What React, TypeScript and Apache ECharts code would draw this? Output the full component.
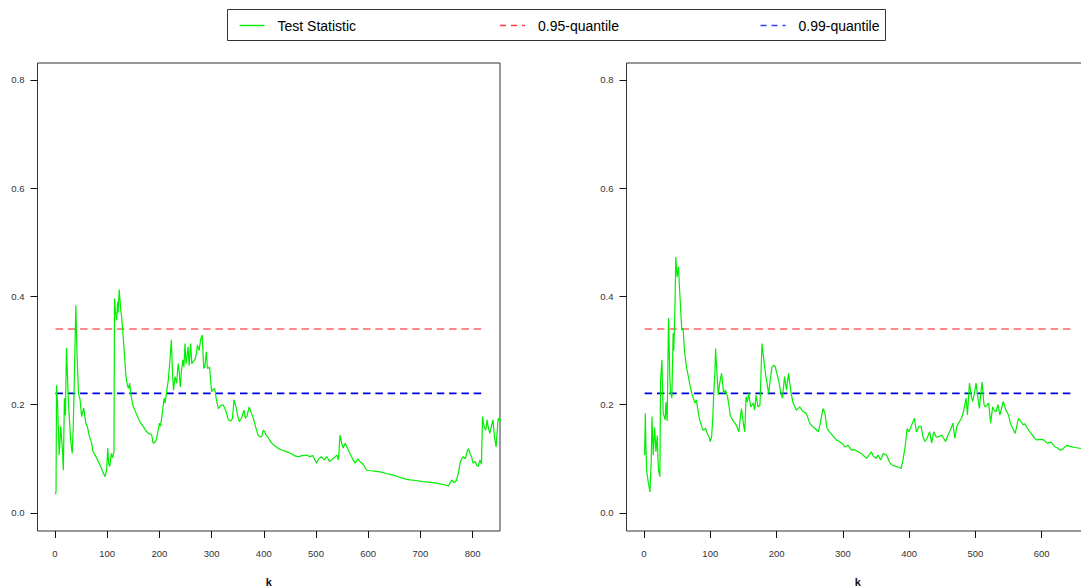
import React, { useEffect, useRef } from "react";
import * as echarts from "echarts";

// Test statistic along k, left sample: [k, value]
const LEFT_STAT: [number, number][] = [
  [1, 0.035], [2, 0.04], [3, 0.236], [5, 0.2], [8, 0.107], [11, 0.16], [14, 0.12], [16, 0.079], [18, 0.212], [20, 0.18],
  [22, 0.305], [26, 0.2], [30, 0.135], [33, 0.11], [35, 0.16], [37, 0.245], [40, 0.384], [42, 0.3], [45, 0.221], [48, 0.21],
  [51, 0.178], [55, 0.194], [59, 0.166], [62, 0.16], [66, 0.141], [70, 0.13], [73, 0.113], [78, 0.105], [83, 0.095], [88, 0.085],
  [92, 0.075], [96, 0.067], [99, 0.08], [101, 0.12], [103, 0.09], [105, 0.086], [108, 0.11], [110, 0.102], [113, 0.113], [114, 0.396],
  [116, 0.37], [118, 0.356], [120, 0.39], [121, 0.37], [123, 0.413], [126, 0.375], [128, 0.36], [131, 0.32], [136, 0.252], [139, 0.235],
  [141, 0.23], [143, 0.24], [146, 0.215], [149, 0.2], [153, 0.19], [158, 0.178], [163, 0.168], [169, 0.16], [174, 0.152], [179, 0.147],
  [185, 0.145], [188, 0.129], [191, 0.13], [194, 0.135], [197, 0.15], [200, 0.166], [202, 0.16], [205, 0.18], [209, 0.212], [211, 0.203],
  [214, 0.225], [217, 0.245], [220, 0.28], [223, 0.32], [225, 0.26], [227, 0.227], [230, 0.252], [233, 0.24], [236, 0.276], [238, 0.26],
  [240, 0.233], [242, 0.26], [245, 0.283], [247, 0.27], [249, 0.313], [251, 0.276], [253, 0.29], [255, 0.307], [257, 0.272], [260, 0.313],
  [262, 0.276], [265, 0.28], [268, 0.283], [270, 0.29], [273, 0.31], [276, 0.3], [279, 0.32], [282, 0.329], [285, 0.267], [287, 0.27],
  [290, 0.298], [292, 0.267], [294, 0.268], [296, 0.27], [300, 0.224], [303, 0.228], [306, 0.23], [309, 0.21], [313, 0.193], [317, 0.198],
  [322, 0.2], [327, 0.19], [332, 0.172], [337, 0.17], [340, 0.175], [343, 0.209], [347, 0.195], [350, 0.18], [353, 0.169], [357, 0.175],
  [362, 0.19], [365, 0.175], [368, 0.18], [372, 0.196], [376, 0.185], [380, 0.175], [384, 0.16], [389, 0.144], [393, 0.141], [396, 0.141],
  [399, 0.153], [402, 0.15], [404, 0.144], [408, 0.14], [415, 0.129], [420, 0.125], [428, 0.119], [436, 0.116], [444, 0.113], [452, 0.11],
  [458, 0.106], [466, 0.104], [474, 0.106], [482, 0.107], [488, 0.104], [494, 0.106], [501, 0.092], [505, 0.1], [510, 0.104], [516, 0.098],
  [521, 0.104], [526, 0.095], [532, 0.1], [537, 0.104], [540, 0.107], [543, 0.098], [546, 0.144], [549, 0.13], [552, 0.12], [556, 0.129],
  [560, 0.12], [565, 0.11], [570, 0.1], [575, 0.092], [580, 0.1], [584, 0.095], [588, 0.092], [591, 0.089], [597, 0.079], [605, 0.078],
  [615, 0.077], [623, 0.076], [635, 0.073], [648, 0.07], [660, 0.066], [670, 0.063], [680, 0.061], [692, 0.06], [704, 0.058], [715, 0.057],
  [731, 0.055], [742, 0.053], [754, 0.05], [757, 0.056], [760, 0.061], [764, 0.056], [769, 0.06], [773, 0.075], [776, 0.092], [779, 0.1],
  [782, 0.104], [786, 0.1], [790, 0.115], [792, 0.119], [795, 0.11], [798, 0.104], [801, 0.092], [805, 0.095], [808, 0.088], [811, 0.086],
  [814, 0.098], [817, 0.09], [819, 0.178], [822, 0.16], [825, 0.153], [828, 0.172], [830, 0.158], [833, 0.147], [836, 0.16], [839, 0.172],
  [842, 0.14], [845, 0.122], [847, 0.15], [849, 0.175], [852, 0.17], [856, 0.175],
];

// Test statistic along k, right sample: [k, value]
const RIGHT_STAT: [number, number][] = [
  [1, 0.107], [2, 0.184], [3, 0.12], [4, 0.079], [6, 0.06], [9, 0.039], [11, 0.1], [12, 0.178], [14, 0.107], [16, 0.158],
  [18, 0.113], [20, 0.143], [21, 0.1], [22, 0.079], [24, 0.067], [25, 0.245], [27, 0.283], [29, 0.184], [32, 0.172], [33, 0.205],
  [35, 0.17], [37, 0.36], [39, 0.25], [40, 0.224], [42, 0.212], [44, 0.332], [45, 0.3], [47, 0.397], [48, 0.473], [50, 0.436],
  [52, 0.455], [54, 0.406], [57, 0.338], [59, 0.341], [61, 0.301], [64, 0.27], [67, 0.252], [70, 0.232], [72, 0.221], [75, 0.21],
  [77, 0.203], [79, 0.209], [82, 0.185], [84, 0.172], [87, 0.16], [89, 0.153], [93, 0.156], [96, 0.145], [98, 0.141], [100, 0.132],
  [102, 0.141], [104, 0.18], [105, 0.215], [107, 0.26], [108, 0.304], [110, 0.26], [112, 0.218], [114, 0.238], [117, 0.258], [119, 0.235],
  [120, 0.221], [123, 0.227], [126, 0.215], [128, 0.2], [130, 0.181], [135, 0.169], [138, 0.165], [140, 0.16], [143, 0.15], [147, 0.193],
  [150, 0.165], [152, 0.15], [154, 0.215], [156, 0.205], [158, 0.221], [161, 0.196], [165, 0.203], [167, 0.19], [169, 0.218], [172, 0.196],
  [175, 0.2], [178, 0.313], [180, 0.292], [182, 0.27], [184, 0.252], [188, 0.221], [191, 0.25], [193, 0.27], [196, 0.273], [198, 0.27],
  [201, 0.255], [204, 0.24], [206, 0.224], [209, 0.212], [212, 0.252], [215, 0.227], [218, 0.258], [222, 0.221], [225, 0.203], [230, 0.19],
  [235, 0.196], [240, 0.187], [245, 0.184], [250, 0.166], [254, 0.16], [258, 0.156], [263, 0.15], [266, 0.166], [270, 0.193], [273, 0.184],
  [276, 0.157], [280, 0.15], [286, 0.141], [290, 0.135], [295, 0.132], [300, 0.127], [303, 0.122], [308, 0.125], [313, 0.116], [318, 0.117],
  [323, 0.113], [328, 0.11], [332, 0.105], [336, 0.101], [340, 0.108], [343, 0.113], [346, 0.105], [350, 0.101], [353, 0.107], [357, 0.098],
  [361, 0.11], [366, 0.107], [370, 0.095], [373, 0.089], [380, 0.086], [385, 0.084], [388, 0.082], [391, 0.1], [394, 0.122], [397, 0.156],
  [400, 0.15], [403, 0.16], [408, 0.175], [411, 0.15], [415, 0.16], [418, 0.16], [421, 0.14], [424, 0.132], [427, 0.138], [431, 0.15],
  [434, 0.129], [437, 0.15], [441, 0.14], [445, 0.141], [449, 0.144], [452, 0.138], [455, 0.132], [459, 0.145], [463, 0.155], [466, 0.166],
  [469, 0.138], [472, 0.16], [476, 0.169], [479, 0.175], [482, 0.187], [484, 0.2], [486, 0.212], [488, 0.181], [491, 0.24], [494, 0.215],
  [496, 0.206], [499, 0.225], [501, 0.24], [504, 0.21], [506, 0.193], [508, 0.22], [510, 0.242], [513, 0.2], [515, 0.196], [518, 0.2],
  [520, 0.203], [523, 0.166], [526, 0.196], [528, 0.19], [531, 0.187], [534, 0.2], [537, 0.181], [542, 0.206], [546, 0.19], [550, 0.181],
  [553, 0.165], [556, 0.157], [560, 0.147], [565, 0.175], [568, 0.17], [572, 0.163], [575, 0.165], [578, 0.157], [584, 0.147], [588, 0.14],
  [592, 0.135], [598, 0.136], [603, 0.135], [608, 0.129], [614, 0.131], [620, 0.122], [624, 0.12], [628, 0.116], [632, 0.118], [635, 0.122],
  [638, 0.125], [642, 0.123], [646, 0.122], [650, 0.121], [655, 0.12], [660, 0.119], [665, 0.118], [670, 0.118],
];

// Critical values
const Q95 = 0.34;
const Q99 = 0.221;
// k-span of the critical-value lines in each panel
const Q_SPAN_LEFT: [number, number] = [1, 822];
const Q_SPAN_RIGHT: [number, number] = [1, 645];

// Axis ticks
const X_TICKS_LEFT = [0, 100, 200, 300, 400, 500, 600, 700, 800];
const X_TICKS_RIGHT = [0, 100, 200, 300, 400, 500, 600];
const Y_TICKS = [0, 0.2, 0.4, 0.6, 0.8];

const NAME_STAT = "Test Statistic";
const NAME_95 = "0.95-quantile";
const NAME_99 = "0.99-quantile";

const FONT = "'Liberation Sans', Arial, Helvetica, sans-serif";
const GREEN = "#00ee00";
const RED = "#ff6262";
const BLUE = "#0000dd";
const LEGEND_RED = "#ff3c3c";
const LEGEND_BLUE = "#3a3aff";

function xAxisFor(gridIndex: number, min: number, max: number, ticks: number[]) {
  return {
    type: "value",
    gridIndex,
    min,
    max,
    axisLine: { show: false, onZero: false },
    splitLine: { show: false },
    axisTick: { show: true, length: 7, lineStyle: { color: "#111", width: 1 }, customValues: ticks },
    axisLabel: { customValues: ticks, fontSize: 9.5, color: "#333", margin: 17, fontFamily: FONT },
    name: "k",
    nameLocation: "middle",
    nameGap: 45,
    nameTextStyle: { fontWeight: "bold", fontSize: 11, color: "#111", fontFamily: FONT },
  };
}

function yAxisFor(gridIndex: number) {
  return {
    type: "value",
    gridIndex,
    min: -0.0333,
    max: 0.8314,
    axisLine: { show: false, onZero: false },
    splitLine: { show: false },
    axisTick: { show: true, length: 7, lineStyle: { color: "#111", width: 1 }, customValues: Y_TICKS },
    axisLabel: {
      customValues: Y_TICKS,
      fontSize: 9.5,
      color: "#333",
      margin: 13,
      fontFamily: FONT,
      formatter: (v: number) => v.toFixed(1),
    },
  };
}

function statSeries(axis: number, data: [number, number][]) {
  return {
    type: "line",
    name: NAME_STAT,
    xAxisIndex: axis,
    yAxisIndex: axis,
    data,
    symbol: "none",
    clip: true,
    lineStyle: { color: GREEN, width: 1.2 },
    itemStyle: { color: GREEN },
    z: 3,
  };
}

function quantSeries(axis: number, name: string, q: number, span: [number, number], color: string) {
  return {
    type: "line",
    name,
    xAxisIndex: axis,
    yAxisIndex: axis,
    data: [
      [span[0], q],
      [span[1], q],
    ],
    symbol: "none",
    clip: true,
    lineStyle: { color, width: 1.6, type: [7.5, 4.8] },
    itemStyle: { color },
    z: 2,
  };
}

// One legend entry: a short line sample followed by its label
function legendEntry(x: number, name: string, color: string, dash: number[] | null) {
  const y = 25.5;
  return [
    {
      type: "line",
      shape: { x1: x, y1: y, x2: x + 25, y2: y },
      style: { stroke: color, lineWidth: 1.4, lineDash: dash || undefined },
      silent: true,
    },
    {
      type: "text",
      x: x + 38,
      y,
      style: { text: name, fill: "#000", fontSize: 14, fontFamily: FONT, verticalAlign: "middle", align: "left" },
      silent: true,
    },
  ];
}

const GRID_BASE = {
  top: 63,
  width: 462.5,
  height: 468,
  show: true,
  borderColor: "#333",
  borderWidth: 1,
  backgroundColor: "transparent",
  containLabel: false,
  outerBoundsMode: "none",
};

export default function App() {
  const ref = useRef<HTMLDivElement>(null);

  useEffect(() => {
    if (!ref.current) return;
    const chart = echarts.init(ref.current, undefined, { renderer: "svg" });
    chart.setOption({
      animation: false,
      backgroundColor: "#ffffff",
      grid: [
        { ...GRID_BASE, left: 37.5 },
        { ...GRID_BASE, left: 626.5 },
      ],
      xAxis: [xAxisFor(0, -33.5, 852.5, X_TICKS_LEFT), xAxisFor(1, -26.4, 671.4, X_TICKS_RIGHT)],
      yAxis: [yAxisFor(0), yAxisFor(1)],
      graphic: [
        {
          type: "rect",
          shape: { x: 227.5, y: 9.5, width: 658, height: 31 },
          style: { fill: "none", stroke: "#333", lineWidth: 1 },
          silent: true,
        },
        ...legendEntry(239.5, NAME_STAT, GREEN, null),
        ...legendEntry(500, NAME_95, LEGEND_RED, [6, 5]),
        ...legendEntry(760.5, NAME_99, LEGEND_BLUE, [6, 5]),
      ],
      series: [
        quantSeries(0, NAME_95, Q95, Q_SPAN_LEFT, RED),
        quantSeries(0, NAME_99, Q99, Q_SPAN_LEFT, BLUE),
        statSeries(0, LEFT_STAT),
        quantSeries(1, NAME_95, Q95, Q_SPAN_RIGHT, RED),
        quantSeries(1, NAME_99, Q99, Q_SPAN_RIGHT, BLUE),
        statSeries(1, RIGHT_STAT),
      ],
    });
    return () => chart.dispose();
  }, []);

  return (
    <div
      ref={ref}
      style={{ position: "fixed", left: 0, top: 0, width: 1081, height: 587, background: "#fff" }}
    />
  );
}
